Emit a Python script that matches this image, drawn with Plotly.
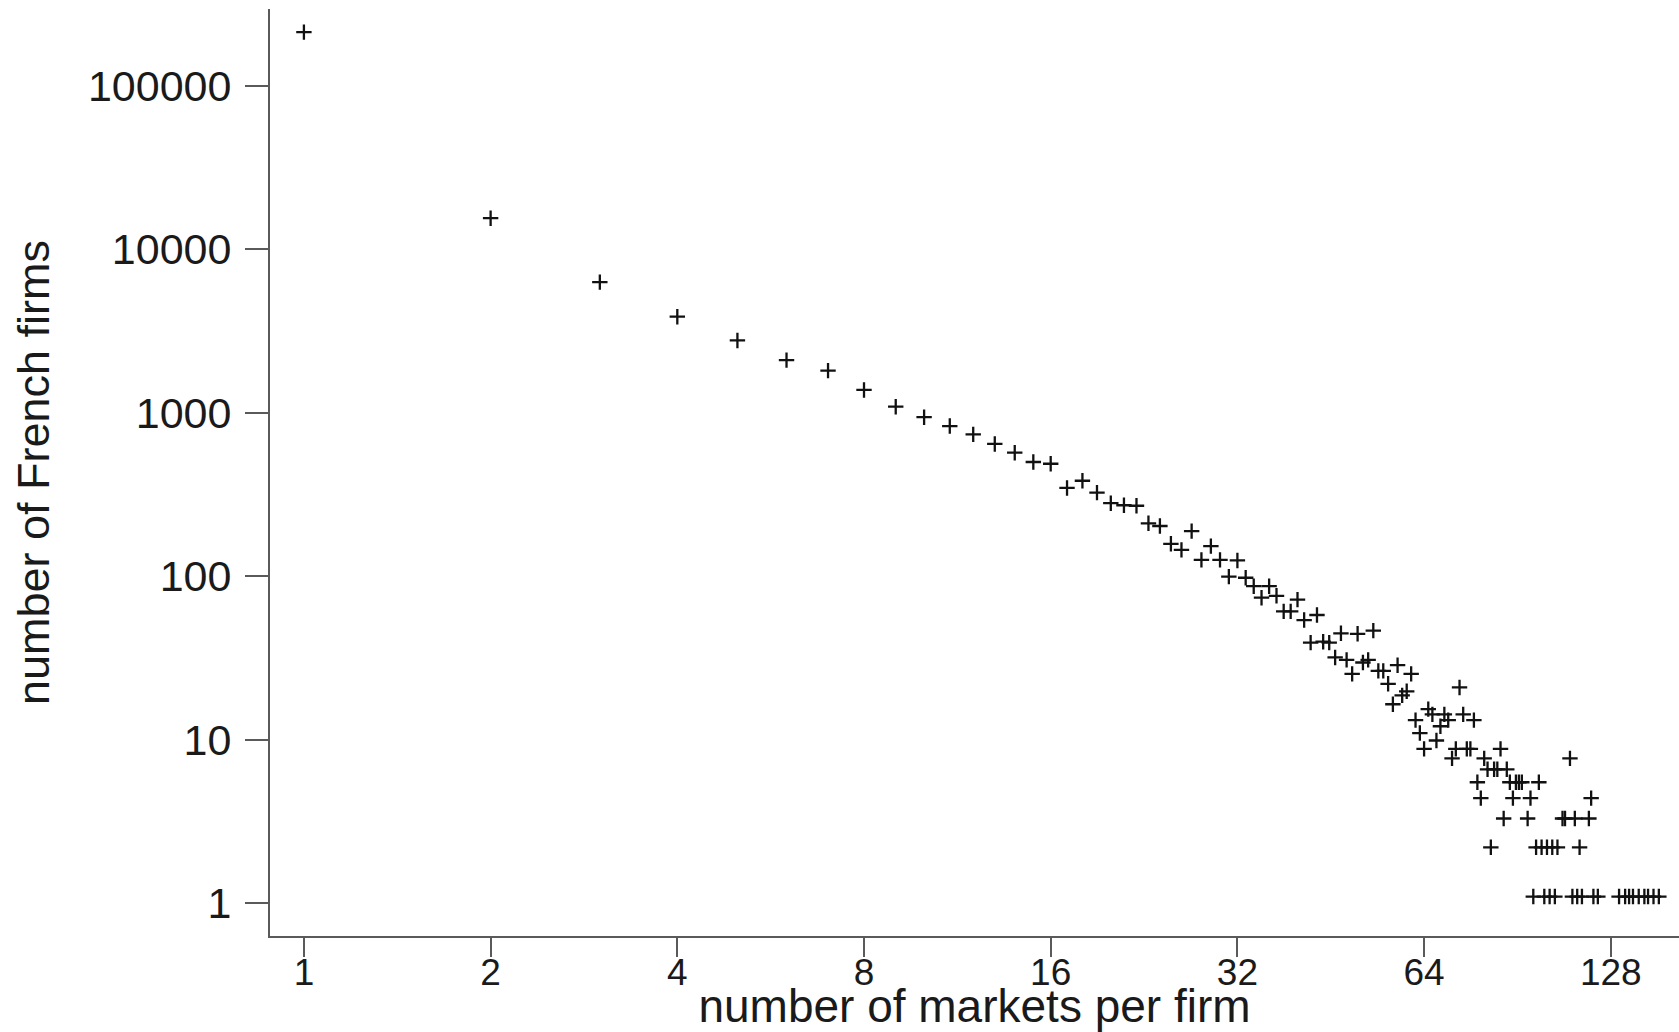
import plotly.graph_objects as go

# Number of export markets served per firm
markets = [
    1, 2, 3, 4, 5, 6, 7, 8, 9, 10,
    11, 12, 13, 14, 15, 16, 17, 18, 19, 20,
    21, 22, 23, 24, 25, 26, 27, 28, 29, 30,
    31, 32, 33, 34, 35, 36, 37, 38, 39, 40,
    41, 42, 43, 44, 45, 46, 47, 48, 49, 50,
    51, 52, 53, 54, 55, 56, 57, 58, 59, 60,
    61, 62, 63, 64, 65, 66, 67, 68, 69, 70,
    71, 72, 73, 74, 75, 76, 77, 78, 79, 80,
    81, 82, 83, 84, 85, 86, 87, 88, 89, 90,
    91, 92, 94, 95, 96, 97, 98, 99, 100, 101,
    102, 103, 104, 105, 107, 108, 110, 111, 112, 113,
    114, 115, 118, 119, 120, 122, 132, 135, 137, 139,
    142, 145, 147, 150, 153,
]

# Number of French firms at each market count
firms = [
    213000, 15500, 6300, 3870, 2770, 2100, 1810, 1380, 1090, 940,
    830, 738, 645, 570, 500, 488, 347, 384, 325, 280,
    272, 270, 211, 203, 158, 145, 189, 126, 153, 126,
    99.5, 125, 98, 87, 74, 87, 76, 61, 61, 72,
    54, 39.3, 58, 39.8, 39.3, 31.9, 44.8, 30.8, 25.3, 44.5,
    29.7, 30.8, 46.5, 26.4, 26.4, 22, 16.5, 28.6, 18.7, 19.8,
    25.3, 13.2, 11, 8.8, 15.4, 14.3, 9.9, 12.1, 14.3, 13.2,
    7.7, 8.8, 20.9, 14.3, 8.8, 8.8, 13.2, 5.5, 4.4, 7.7,
    6.6, 2.2, 6.6, 6.6, 8.8, 3.3, 6.6, 5.5, 4.4, 5.5,
    5.5, 5.5, 3.3, 4.4, 1.1, 2.2, 5.5, 2.2, 1.1, 2.2,
    1.1, 2.2, 1.1, 2.2, 3.3, 3.3, 7.7, 1.1, 3.3, 1.1,
    2.2, 1.1, 3.3, 4.4, 1.1, 1.1, 1.1, 1.1, 1.1, 1.1,
    1.1, 1.1, 1.1, 1.1, 1.1,
]

x_ticks = [1, 2, 4, 8, 16, 32, 64, 128]
x_tick_labels = ["1", "2", "4", "8", "16", "32", "64", "128"]
y_ticks = [1, 10, 100, 1000, 10000, 100000]
y_tick_labels = ["1", "10", "100", "1000", "10000", "100000"]

FONT = "Liberation Sans, Arial, Helvetica, sans-serif"
AXIS_GREY = "#5a5a5a"

fig = go.Figure(
    go.Scatter(
        x=markets,
        y=firms,
        mode="markers",
        marker=dict(
            symbol="cross-thin",
            size=11,
            line=dict(width=2.3, color="#111111"),
            color="#111111",
        ),
        hoverinfo="x+y",
    )
)

fig.update_layout(
    width=1679,
    height=1032,
    margin=dict(l=270, r=0, t=9, b=96),
    paper_bgcolor="white",
    plot_bgcolor="white",
    showlegend=False,
    font=dict(family=FONT, color="#1a1a1a", size=38),
)

fig.update_xaxes(
    type="log",
    range=[-0.0547, 2.2172],
    automargin=False,
    tickmode="array",
    tickvals=x_ticks,
    ticktext=x_tick_labels,
    ticks="outside",
    ticklen=19,
    tickwidth=2,
    tickcolor=AXIS_GREY,
    showline=True,
    linecolor=AXIS_GREY,
    linewidth=2,
    showgrid=False,
    zeroline=False,
    tickfont=dict(size=37),
    ticklabelstandoff=-16,
    title=dict(text="number of markets per firm", font=dict(size=46), standoff=16),
)

fig.update_yaxes(
    type="log",
    range=[-0.2, 5.4697],
    automargin=False,
    tickmode="array",
    tickvals=y_ticks,
    ticktext=y_tick_labels,
    ticks="outside",
    ticklen=23,
    tickwidth=2,
    tickcolor=AXIS_GREY,
    showline=True,
    linecolor=AXIS_GREY,
    linewidth=2,
    showgrid=False,
    zeroline=False,
    tickfont=dict(size=43),
    ticklabelstandoff=5,
    title=dict(text="number of French firms", font=dict(size=45), standoff=24),
)

fig.write_html("out.html")
